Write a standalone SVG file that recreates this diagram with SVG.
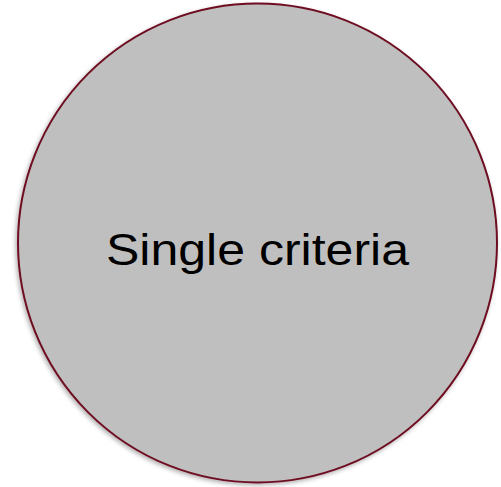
<svg xmlns="http://www.w3.org/2000/svg" width="501" height="487" viewBox="0 0 501 487">
  <style>
    .node-shape { fill: #bfbfbf; stroke: #6e0f22; stroke-width: 2; }
    .node-label { font-family: "Liberation Sans", Arial, sans-serif; font-size: 45px; fill: #000000; }
  </style>
  <defs>
    <filter id="shadow" x="-10%" y="-10%" width="120%" height="120%">
      <feDropShadow dx="-1.5" dy="2" stdDeviation="2" flood-color="#000000" flood-opacity="0.3"/>
    </filter>
  </defs>
  <rect x="0" y="0" width="501" height="487" fill="#ffffff"/>
  <g id="connectors"></g>
  <g id="node-single-criteria">
    <circle class="node-shape" cx="257.5" cy="243" r="239.5" filter="url(#shadow)"/>
    <text class="node-label" x="257.5" y="265" text-anchor="middle" textLength="303" lengthAdjust="spacingAndGlyphs">Single criteria</text>
  </g>
</svg>
